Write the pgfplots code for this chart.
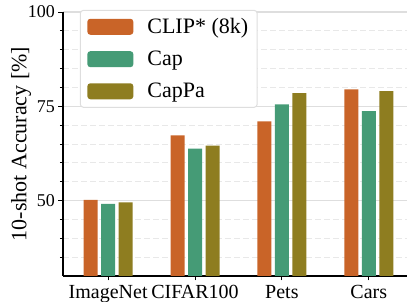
\documentclass[border=0pt]{standalone}
\usepackage{fontspec}
\setmainfont{Liberation Serif}
\usepackage{pgfplots}
\pgfplotsset{compat=1.18}
\definecolor{cclip}{RGB}{201,100,40}
\definecolor{ccap}{RGB}{69,155,118}
\definecolor{ccappa}{RGB}{142,125,32}
\definecolor{gridmaj}{RGB}{222,222,222}
\definecolor{gridmin}{RGB}{232,232,232}
\begin{document}
\begin{tikzpicture}
\begin{axis}[
  at={(0,0)}, anchor=south west,
  scale only axis, width=344pt, height=264pt,
  xmin=-0.52, xmax=3.44, ymin=30, ymax=100,
  axis lines*=left,
  axis line style={black, line width=1.1pt},
  xtick={0,1,2,3}, xticklabels={ImageNet,CIFAR100,Pets,Cars},
  ytick={50,75,100},
  minor ytick={35,40,45,55,60,65,70,80,85,90,95},
  ymajorgrids, yminorgrids,
  major grid style={gridmaj, line width=1.1pt},
  minor grid style={gridmin, dashed, dash pattern=on 6pt off 3pt, line width=0.9pt},
  tick align=outside,
  major tick length=4.5pt, minor tick length=3pt,
  every tick/.style={black, line width=0.9pt},
  /pgf/number format/assume math mode=true,
  x tick label style={font=\fontsize{20}{22}\selectfont, yshift=-1pt},
  y tick label style={font=\fontsize{18}{20}\selectfont},
  ylabel={10-shot Accuracy [\%]},
  ylabel style={font=\fontsize{22}{24}\selectfont, at={(axis description cs:-0.122,0.5)}, anchor=center},
  legend image code/.code={\path[#1] (0pt,-8pt) rectangle (46pt,8pt);},
  legend cell align=left,
  legend style={at={(axis description cs:0.049,1.008)}, anchor=north west,
    draw=gridmaj, line width=1pt, rounded corners=3pt, fill=white,
    font=\fontsize{22}{24}\selectfont,
    inner xsep=7pt, inner ysep=6pt, row sep=12pt,
    /tikz/every odd column/.append style={column sep=12pt},
    /tikz/every even column/.append style={column sep=0pt}},
]
\addlegendimage{fill=cclip, draw=none}
\addlegendentry{CLIP* (8k)}
\addlegendimage{fill=ccap, draw=none}
\addlegendentry{Cap}
\addlegendimage{fill=ccappa, draw=none}
\addlegendentry{CapPa}
\addplot[ybar, bar width=14pt, bar shift=-17.5pt, fill=cclip, draw=none, forget plot]
  coordinates {(0,50.2) (1,67.3) (2,71.0) (3,79.5)};
\addplot[ybar, bar width=14pt, bar shift=0pt, fill=ccap, draw=none, forget plot]
  coordinates {(0,49.1) (1,63.8) (2,75.5) (3,73.7)};
\addplot[ybar, bar width=14pt, bar shift=17.5pt, fill=ccappa, draw=none, forget plot]
  coordinates {(0,49.5) (1,64.6) (2,78.5) (3,79.0)};
\end{axis}
\pgfresetboundingbox
\path[use as bounding box] (-63pt,-26pt) rectangle (344pt,276pt);
\end{tikzpicture}
\end{document}
